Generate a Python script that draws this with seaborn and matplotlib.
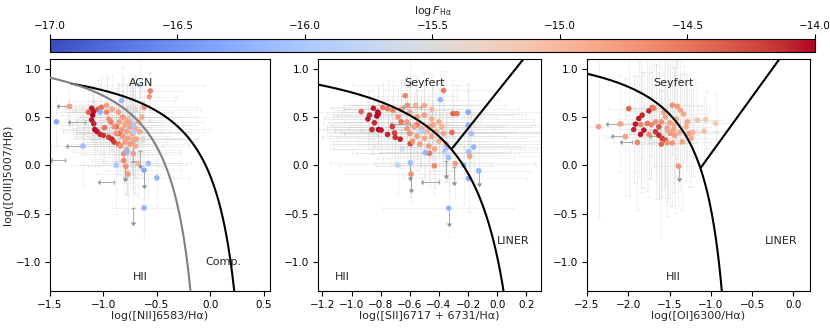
import numpy as np
import matplotlib
matplotlib.use("Agg")
import matplotlib.pyplot as plt
import seaborn as sns
from matplotlib.colors import Normalize

# --- data: [NII] panel ---
nii_x = [-1.11, -1.09, -1.10, -1.11, -1.09, -1.08, -1.06, -1.03, -1.00, -0.95, -0.92, -0.90, -1.05, -1.14,
         -1.02, -0.97, -0.93, -0.88, -0.86, -0.99, -0.85, -1.32, -0.56, -0.57, -0.97, -0.92, -0.86, -0.82,
         -0.79, -0.85, -0.80, -0.75, -0.90, -0.83, -0.78, -0.73, -0.88, -0.82, -0.77, -0.72, -0.80, -0.75,
         -0.70, -0.84, -0.78, -0.72, -0.81, -0.81, -0.79, -0.77, -0.68, -0.70, -0.76, -0.66, -0.69, -0.62,
         -0.64, -0.74, -0.67, -0.95, -1.44, -1.19, -0.78, -0.58, -0.62, -0.50, -0.72, -0.72, -0.73, -0.83,
         -0.66, -0.88, -0.72, -0.62, -1.03, -0.63, -0.70]
nii_y = [0.59, 0.56, 0.52, 0.47, 0.43, 0.37, 0.35, 0.32, 0.31, 0.29, 0.27, 0.24, 0.58, 0.55,
         0.60, 0.55, 0.45, 0.40, 0.22, 0.39, 0.33, 0.61, 0.77, 0.71, 0.62, 0.58, 0.55, 0.50,
         0.47, 0.45, 0.42, 0.40, 0.40, 0.37, 0.35, 0.33, 0.33, 0.30, 0.28, 0.27, 0.24, 0.22,
         0.20, 0.20, 0.16, 0.12, 0.12, 0.05, -0.01, -0.09, 0.02, 0.38, 0.45, 0.35, 0.27, 0.60,
         0.50, 0.50, 0.45, 0.48, 0.45, 0.20, 0.14, 0.02, -0.05, -0.13, 0.42, 0.35, 0.50, 0.67,
         0.83, 0.00, 0.00, -0.44, 0.55, 0.27, 0.57]
nii_f = [-14.05, -14.05, -14.0, -14.05, -14.1, -14.0, -14.05, -14.1, -14.15, -14.2, -14.1, -14.2, -14.35, -14.4,
         -14.5, -14.6, -14.55, -14.4, -14.4, -14.5, -14.45, -14.8, -14.6, -14.75, -14.8, -14.85, -14.8, -14.75,
         -14.9, -14.8, -14.85, -14.8, -14.7, -14.75, -14.8, -14.85, -14.7, -14.75, -14.8, -14.9, -14.8, -14.75,
         -14.85, -14.7, -14.8, -14.8, -14.65, -14.6, -14.7, -14.75, -14.95, -14.9, -14.8, -14.9, -14.85, -14.7,
         -14.9, -14.85, -14.9, -14.7, -16.3, -16.1, -16.2, -16.1, -16.3, -16.2, -16.0, -15.9, -15.7, -16.1,
         -15.8, -16.0, -15.6, -16.2, -16.2, -15.5, -15.4]
nii_xe = [0.25, 0.2, 0.3, 0.15, 0.2, 0.3, 0.2, 0.25, 0.2, 0.3, 0.2, 0.25, 0.3, 0.2,
          0.35, 0.3, 0.4, 0.3, 0.35, 0.3, 0.4, 0.2, 0.3, 0.25, 0.4, 0.35, 0.5, 0.4,
          0.45, 0.4, 0.6, 0.5, 0.35, 0.45, 0.6, 0.5, 0.3, 0.45, 0.5, 0.6, 0.4, 0.55,
          0.5, 0.4, 0.5, 0.45, 0.4, 0.3, 0.35, 0.3, 0.4, 0.7, 0.5, 0.6, 0.5, 0.5,
          0.6, 0.45, 0.6, 0.4, 0.15, 0.3, 0.5, 0.4, 0.35, 0.3, 0.6, 0.5, 0.6, 0.5,
          0.6, 0.4, 0.5, 0.3, 0.4, 0.5, 0.6]
nii_ye = [0.2, 0.25, 0.3, 0.2, 0.25, 0.3, 0.2, 0.25, 0.3, 0.2, 0.25, 0.2, 0.3, 0.25,
          0.3, 0.35, 0.3, 0.4, 0.3, 0.35, 0.3, 0.2, 0.2, 0.25, 0.3, 0.35, 0.3, 0.4,
          0.35, 0.4, 0.3, 0.45, 0.35, 0.4, 0.5, 0.4, 0.3, 0.45, 0.4, 0.5, 0.35, 0.4,
          0.5, 0.3, 0.45, 0.4, 0.3, 0.35, 0.3, 0.4, 0.35, 0.5, 0.4, 0.45, 0.4, 0.3,
          0.4, 0.35, 0.45, 0.3, 0.25, 0.4, 0.45, 0.35, 0.3, 0.3, 0.5, 0.45, 0.4, 0.35,
          0.3, 0.5, 0.45, 0.3, 0.3, 0.4, 0.35]
# upper limits (dark arrows)
nii_lx = [-1.30, -1.17, -1.36, -0.90, -1.21]
nii_ly = [0.61, 0.45, 0.06, -0.17, 0.20]
nii_lxe = [0.12, 0.14, 0.12, 0.13, 0.12]
nii_dx = [-0.72, -0.62, -0.80, -0.66, -0.72]
nii_dy = [-0.44, -0.05, 0.00, 0.15, 0.25]
nii_dye = [0.15, 0.15, 0.13, 0.15, 0.2]

# --- data: [SII] panel ---
sii_x = [-0.85, -0.82, -0.815, -0.826, -0.877, -0.888, -0.843, -0.815, -0.797, -0.753, -0.705, -0.70, -0.666, -0.597,
         -0.72, -0.86, -0.934, -0.786, -0.753, -0.717, -0.632, -0.616, -0.304, -0.277, -0.311, -0.368, -0.465, -0.432,
         -0.592, -0.288, -0.19, -0.66, -0.55, -0.66, -0.60, -0.55, -0.50, -0.45, -0.40, -0.62, -0.57, -0.52,
         -0.47, -0.42, -0.37, -0.60, -0.55, -0.50, -0.45, -0.40, -0.35, -0.53, -0.47, -0.43, -0.58, -0.48,
         -0.44, -0.38, -0.56, -0.50, -0.62, -0.68, -0.45, -0.20, -0.20, -0.178, -0.162, -0.197, -0.231, -0.391,
         -0.345, -0.357, -0.494, -0.597, -0.684, -0.35, -0.334, -0.197, -0.128, -0.334, -0.60, -0.52, -0.65]
sii_y = [0.59, 0.55, 0.535, 0.51, 0.52, 0.48, 0.44, 0.37, 0.365, 0.32, 0.335, 0.29, 0.27, 0.225,
         0.40, 0.37, 0.555, 0.60, 0.585, 0.57, 0.72, 0.62, 0.535, 0.535, 0.34, 0.775, 0.125, -0.005,
         -0.09, 0.02, 0.095, 0.45, 0.42, 0.58, 0.55, 0.50, 0.52, 0.48, 0.45, 0.45, 0.40, 0.38,
         0.40, 0.35, 0.33, 0.33, 0.30, 0.28, 0.30, 0.25, 0.22, 0.22, 0.20, 0.17, 0.25, 0.35,
         0.42, 0.40, 0.62, 0.62, 0.38, 0.50, 0.58, 0.55, 0.415, 0.33, 0.19, 0.14, 0.003, 0.68,
         0.19, 0.14, 0.13, 0.027, 0.003, 0.13, 0.08, -0.134, -0.055, -0.443, 0.83, 0.35, 0.17]
sii_f = [-14.05, -14.0, -14.05, -14.0, -14.1, -14.05, -14.1, -14.0, -14.05, -14.1, -14.2, -14.15, -14.1, -14.25,
         -14.2, -14.1, -14.4, -14.5, -14.55, -14.6, -14.6, -14.7, -14.4, -14.5, -14.45, -14.55, -14.5, -14.6,
         -14.7, -14.75, -14.8, -14.5, -14.55, -14.8, -14.85, -14.75, -14.8, -14.9, -14.85, -14.75, -14.8, -14.85,
         -14.8, -14.9, -14.85, -14.7, -14.8, -14.85, -14.8, -14.9, -14.85, -14.8, -14.75, -14.85, -14.7, -14.95,
         -14.8, -14.9, -14.9, -14.85, -14.75, -14.7, -15.0, -16.3, -16.2, -16.1, -16.2, -16.1, -16.2, -16.2,
         -16.1, -16.3, -16.2, -16.1, -15.8, -15.7, -16.1, -16.3, -16.2, -16.2, -15.6, -15.9, -15.6]
sii_xe = [0.3, 0.25, 0.35, 0.3, 0.25, 0.3, 0.35, 0.3, 0.4, 0.3, 0.35, 0.4, 0.3, 0.35,
          0.3, 0.25, 0.3, 0.35, 0.3, 0.4, 0.35, 0.4, 0.5, 0.45, 0.6, 0.4, 0.5, 0.4,
          0.45, 0.55, 0.5, 0.5, 0.6, 0.4, 0.5, 0.55, 0.6, 0.7, 0.65, 0.5, 0.6, 0.65,
          0.7, 0.75, 0.7, 0.55, 0.6, 0.7, 0.75, 0.7, 0.8, 0.6, 0.65, 0.7, 0.55, 0.6,
          0.7, 0.75, 0.5, 0.55, 0.6, 0.5, 0.6, 0.5, 0.55, 0.45, 0.5, 0.6, 0.5, 0.4,
          0.5, 0.45, 0.5, 0.55, 0.4, 0.5, 0.45, 0.4, 0.35, 0.45, 0.4, 0.6, 0.5]
sii_ye = [0.2, 0.25, 0.3, 0.2, 0.25, 0.3, 0.25, 0.3, 0.2, 0.25, 0.3, 0.25, 0.3, 0.2,
          0.3, 0.25, 0.2, 0.25, 0.3, 0.3, 0.2, 0.3, 0.35, 0.3, 0.4, 0.2, 0.35, 0.3,
          0.3, 0.35, 0.3, 0.3, 0.35, 0.3, 0.35, 0.4, 0.35, 0.4, 0.35, 0.3, 0.35, 0.4,
          0.35, 0.4, 0.35, 0.3, 0.35, 0.4, 0.35, 0.4, 0.35, 0.3, 0.35, 0.4, 0.3, 0.35,
          0.4, 0.35, 0.3, 0.35, 0.3, 0.3, 0.35, 0.3, 0.35, 0.3, 0.35, 0.3, 0.4, 0.3,
          0.35, 0.3, 0.3, 0.35, 0.3, 0.3, 0.35, 0.35, 0.3, 0.3, 0.3, 0.35, 0.3]
sii_lx = [-0.40, -0.52, -0.60]
sii_ly = [-0.17, 0.60, 0.43]
sii_lxe = [0.11, 0.12, 0.12]
sii_dx = [-0.334, -0.597, -0.592, -0.35, -0.128, -0.30]
sii_dy = [-0.443, 0.027, -0.09, 0.05, -0.055, -0.02]
sii_dye = [0.15, 0.15, 0.15, 0.15, 0.13, 0.15]

# --- data: [OI] panel ---
oi_x = [-1.913, -1.873, -1.832, -1.751, -1.934, -1.852, -1.67, -1.63, -1.589, -1.812, -1.63, -1.55, -1.60,
        -1.994, -1.71, -1.69, -1.85, -1.77, -1.72, -1.67, -2.095, -2.034, -1.89, -1.528, -1.50, -1.49,
        -1.44, -1.467, -1.406, -1.37, -1.52, -1.45, -1.38, -1.285, -1.265, -1.528, -1.467, -1.346, -1.24,
        -1.163, -1.063, -1.083, -0.94, -2.36, -1.394, -1.55, -1.42, -1.30, -1.60, -1.75, -1.33, -1.22,
        -1.45, -1.57]
oi_y = [0.426, 0.484, 0.519, 0.563, 0.371, 0.32, 0.347, 0.312, 0.278, 0.364, 0.398, 0.26, 0.22,
        0.587, 0.598, 0.59, 0.423, 0.433, 0.42, 0.45, 0.43, 0.295, 0.237, 0.381, 0.44, 0.33,
        0.31, 0.622, 0.611, 0.57, 0.36, 0.37, 0.34, 0.45, 0.33, 0.233, 0.233, 0.243, 0.28,
        0.467, 0.474, 0.354, 0.433, 0.40, -0.007, 0.50, 0.48, 0.40, 0.45, 0.32, 0.53, 0.34,
        0.42, 0.55]
oi_f = [-14.05, -14.05, -14.1, -14.1, -14.1, -14.05, -14.15, -14.1, -14.2, -14.05, -14.3, -14.3, -14.4,
        -14.4, -14.45, -14.55, -14.6, -14.5, -14.6, -14.7, -14.8, -14.8, -14.6, -14.75, -14.8, -14.75,
        -14.8, -14.7, -14.75, -14.8, -14.85, -14.8, -14.9, -14.85, -14.8, -14.7, -14.75, -14.8, -14.9,
        -15.1, -15.2, -15.1, -15.2, -14.8, -14.7, -14.85, -14.9, -14.9, -14.7, -14.65, -14.85, -14.95,
        -14.9, -14.85]
oi_xe = [0.2, 0.25, 0.2, 0.3, 0.25, 0.2, 0.3, 0.25, 0.3, 0.2, 0.3, 0.25, 0.3,
         0.25, 0.3, 0.25, 0.3, 0.3, 0.35, 0.3, 0.2, 0.25, 0.3, 0.35, 0.3, 0.35,
         0.3, 0.35, 0.3, 0.35, 0.3, 0.35, 0.3, 0.3, 0.35, 0.3, 0.3, 0.35, 0.3,
         0.25, 0.2, 0.25, 0.2, 0.15, 0.3, 0.35, 0.3, 0.3, 0.35, 0.3, 0.3, 0.3,
         0.35, 0.3]
oi_ye = [0.5, 0.6, 0.45, 0.7, 0.55, 0.6, 0.7, 0.65, 0.5, 0.6, 0.75, 0.6, 0.55,
         0.9, 0.5, 0.6, 0.65, 0.7, 0.55, 0.6, 0.5, 0.6, 0.7, 0.9, 0.6, 0.75,
         0.8, 0.5, 0.55, 0.6, 0.7, 0.65, 0.6, 0.5, 0.55, 0.6, 0.65, 0.7, 0.5,
         0.4, 0.3, 0.35, 0.3, 0.95, 0.4, 0.7, 0.6, 0.55, 1.2, 0.65, 0.5, 0.45,
         0.6, 0.8]
oi_lx = [-2.12, -2.06, -1.96, -1.62]
oi_ly = [0.43, 0.30, 0.24, 0.30]
oi_lxe = [0.12, 0.12, 0.12, 0.10]
oi_dx = [-1.39]
oi_dy = [-0.007]
oi_dye = [0.12]

# --- demarcation curves ---
def kewley_nii(x): return 0.61 / (x - 0.47) + 1.19
def kauff_nii(x): return 0.61 / (x - 0.05) + 1.30
def kewley_sii(x): return 0.72 / (x - 0.32) + 1.30
def kewley_oi(x): return 0.73 / (x + 0.59) + 1.33

sns.set_style("ticks")
plt.rcParams.update({
    "font.family": ["DejaVu Sans"],
    "xtick.labelsize": 7.5, "ytick.labelsize": 7.5,
    "axes.edgecolor": "black", "xtick.color": "black", "ytick.color": "black",
    "axes.linewidth": 0.8,
})

fig = plt.figure(figsize=(8.3, 3.29), dpi=100)
ax1 = fig.add_axes([50 / 830, 38 / 329, 220 / 830, 232 / 329])
ax2 = fig.add_axes([318 / 830, 38 / 329, 223 / 830, 232 / 329])
ax3 = fig.add_axes([587 / 830, 38 / 329, 223 / 830, 232 / 329])
cax = fig.add_axes([50 / 830, 277 / 329, 765 / 830, 13 / 329])

norm = Normalize(-17, -14)
cmap = "coolwarm"
LBL = 8


def draw_panel(ax, x, y, f, xe, ye, lx, ly, lxe, dx, dy, dye):
    ax.errorbar(x, y, xerr=xe, yerr=ye, fmt="none", ecolor="#b0b0b0", alpha=0.2,
                elinewidth=0.6, capsize=1.5, capthick=0.6, zorder=1)
    ax.errorbar(lx, ly, xerr=lxe, xuplims=True, fmt="none", ecolor="#8a8a8a", alpha=0.7,
                elinewidth=0.7, capsize=1.2, zorder=2)
    ax.errorbar(dx, dy, yerr=dye, uplims=True, fmt="none", ecolor="#8a8a8a", alpha=0.7,
                elinewidth=0.7, capsize=1.2, zorder=2)
    sns.scatterplot(x=x, y=y, hue=f, palette=cmap, hue_norm=norm, s=16, linewidth=0,
                    legend=False, ax=ax, zorder=3)
    ax.set_ylim(-1.3, 1.1)


draw_panel(ax1, nii_x, nii_y, nii_f, nii_xe, nii_ye, nii_lx, nii_ly, nii_lxe, nii_dx, nii_dy, nii_dye)
xk = np.linspace(-1.30, 0.4, 400)
ax1.plot(xk, kewley_nii(xk), color="black", lw=1.5, zorder=4)
xg = np.linspace(-1.6, 0.0, 400)
ax1.plot(xg, kauff_nii(xg), color="gray", lw=1.5, zorder=4)
ax1.set_xlim(-1.5, 0.56)
ax1.set_xticks([-1.5, -1.0, -0.5, 0.0, 0.5])
ax1.text(-0.65, 0.85, "AGN", ha="center", va="center", fontsize=LBL)
ax1.text(-0.65, -1.15, "HII", ha="center", va="center", fontsize=LBL)
ax1.text(0.12, -1.0, "Comp.", ha="center", va="center", fontsize=LBL)
ax1.set_xlabel("log([NII]6583/Hα)", fontsize=LBL, labelpad=1)
ax1.set_ylabel("log([OIII]5007/Hβ)", fontsize=LBL, labelpad=2)

draw_panel(ax2, sii_x, sii_y, sii_f, sii_xe, sii_ye, sii_lx, sii_ly, sii_lxe, sii_dx, sii_dy, sii_dye)
xs = np.linspace(-1.3, 0.2, 400)
ax2.plot(xs, kewley_sii(xs), color="black", lw=1.5, zorder=4)
xl = np.linspace(-0.31, 0.4, 50)
ax2.plot(xl, 1.89 * xl + 0.76, color="black", lw=1.5, zorder=4)
ax2.set_xlim(-1.23, 0.3)
ax2.set_xticks([-1.2, -1.0, -0.8, -0.6, -0.4, -0.2, 0.0, 0.2])
ax2.text(-0.5, 0.85, "Seyfert", ha="center", va="center", fontsize=LBL)
ax2.text(0.11, -0.78, "LINER", ha="center", va="center", fontsize=LBL)
ax2.text(-1.06, -1.15, "HII", ha="center", va="center", fontsize=LBL)
ax2.set_xlabel("log([SII]6717 + 6731/Hα)", fontsize=LBL, labelpad=1)

draw_panel(ax3, oi_x, oi_y, oi_f, oi_xe, oi_ye, oi_lx, oi_ly, oi_lxe, oi_dx, oi_dy, oi_dye)
xo = np.linspace(-2.6, -0.6, 400)
ax3.plot(xo, kewley_oi(xo), color="black", lw=1.5, zorder=4)
xl3 = np.linspace(-1.12, 0.3, 50)
ax3.plot(xl3, 1.18 * xl3 + 1.30, color="black", lw=1.5, zorder=4)
ax3.set_xlim(-2.5, 0.2)
ax3.set_xticks([-2.5, -2.0, -1.5, -1.0, -0.5, 0.0])
ax3.text(-1.45, 0.85, "Seyfert", ha="center", va="center", fontsize=LBL)
ax3.text(-0.15, -0.78, "LINER", ha="center", va="center", fontsize=LBL)
ax3.text(-1.45, -1.15, "HII", ha="center", va="center", fontsize=LBL)
ax3.set_xlabel("log([OI]6300/Hα)", fontsize=LBL, labelpad=1)

for ax in (ax1, ax2, ax3):
    ax.set_yticks([-1.0, -0.5, 0.0, 0.5, 1.0])
    ax.tick_params(length=3.5, width=0.8, pad=3)

sm = plt.cm.ScalarMappable(norm=norm, cmap=cmap)
cb = fig.colorbar(sm, cax=cax, orientation="horizontal")
cb.set_ticks([-17.0, -16.5, -16.0, -15.5, -15.0, -14.5, -14.0])
cax.xaxis.set_ticks_position("top")
cax.xaxis.set_label_position("top")
cb.set_label(r"$\log F_{\rm H\alpha}$", fontsize=LBL, labelpad=5)
cax.tick_params(labelsize=7.5, length=3.5, width=0.8, pad=2)

fig.savefig("out.png", dpi=100)
